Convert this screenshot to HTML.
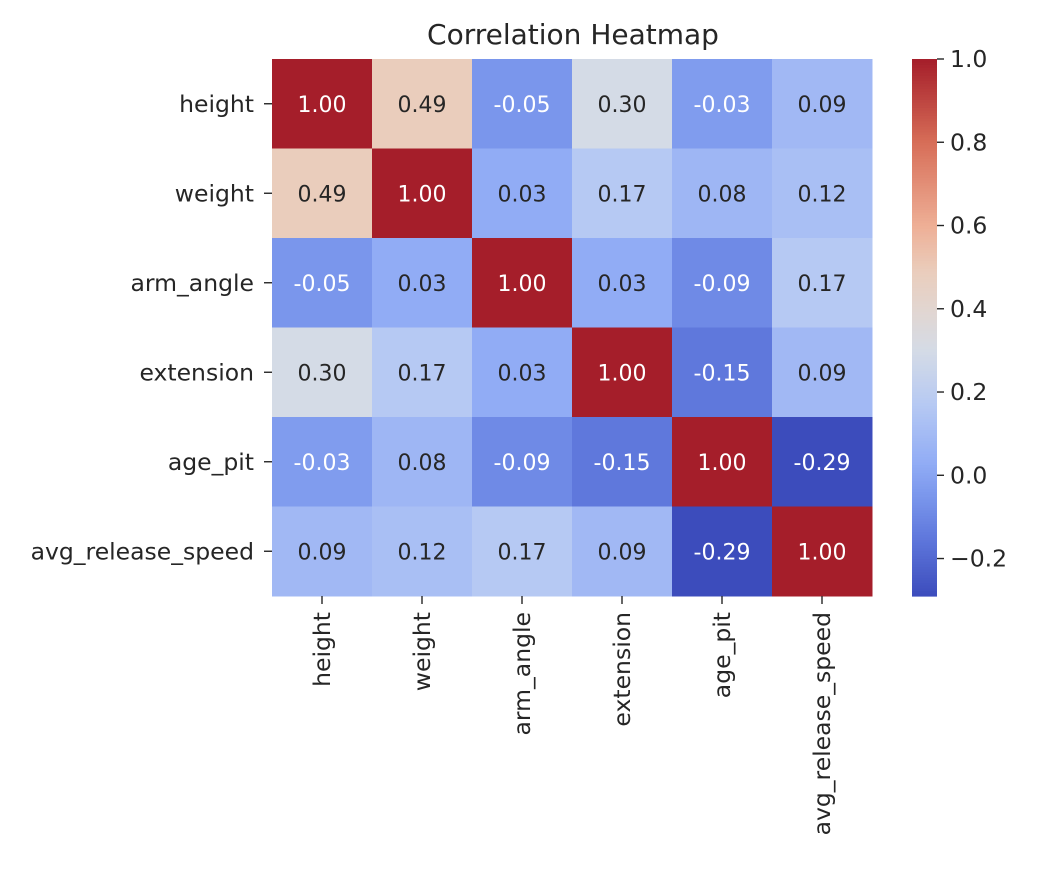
<!DOCTYPE html>
<html><head><meta charset="utf-8"><style>
body{margin:0;background:#fff;}
svg text{font-family:"DejaVu Sans","Liberation Sans",sans-serif;fill:#262626;}
</style></head><body>
<svg id="chart" width="1044" height="868" xmlns="http://www.w3.org/2000/svg">
<text x="573" y="44" font-size="28" text-anchor="middle">Correlation Heatmap</text>
<g id="cells"></g><g id="labels"></g><g id="cbar"></g>
</svg>
<script>
const categories=["height","weight","arm_angle","extension","age_pit","avg_release_speed"];
const row0=[1.00,0.49,-0.05,0.30,-0.03,0.09];
const row1=[0.49,1.00,0.03,0.17,0.08,0.12];
const row2=[-0.05,0.03,1.00,0.03,-0.09,0.17];
const row3=[0.30,0.17,0.03,1.00,-0.15,0.09];
const row4=[-0.03,0.08,-0.09,-0.15,1.00,-0.29];
const row5=[0.09,0.12,0.17,0.09,-0.29,1.00];
const matrix=[row0,row1,row2,row3,row4,row5];
const cbarTicks=[1.0,0.8,0.6,0.4,0.2,0.0,-0.2];
const vmin=-0.29,vmax=1.0;
const NS="http://www.w3.org/2000/svg";
const L=272,T=59,R=872,B=596;
const cw=(R-L)/categories.length,ch=(B-T)/categories.length;
const stops=[[0,60,76,188],[0.109,95,120,220],[0.186,122,150,236],[0.248,145,172,245],[0.357,182,201,243],[0.457,212,219,230],[0.53,225,214,210],[0.605,234,205,188],[0.69,238,175,150],[0.845,215,110,88],[1,165,30,42]];
function cmap(v){let t=Math.max(0,Math.min(1,(v-vmin)/(vmax-vmin)));
 for(let i=1;i<stops.length;i++){if(t<=stops[i][0]){const a=stops[i-1],b=stops[i],f=(t-a[0])/(b[0]-a[0]);
 return [1,2,3].map(k=>Math.round(a[k]+(b[k]-a[k])*f));}}return stops[stops.length-1].slice(1);}
function lum(c){const l=c.map(x=>{x/=255;return x<=0.03928?x/12.92:Math.pow((x+0.055)/1.055,2.4)});return 0.2126*l[0]+0.7152*l[1]+0.0722*l[2];}
function el(tag,attrs,parent){const e=document.createElementNS(NS,tag);for(const k in attrs)e.setAttribute(k,attrs[k]);parent.appendChild(e);return e;}
const cells=document.getElementById('cells'),labels=document.getElementById('labels'),cb=document.getElementById('cbar');
const xs=i=>L+i*cw, ys=j=>T+j*ch;
matrix.forEach((row,j)=>row.forEach((v,i)=>{
 const c=cmap(v);
 const r=el('rect',{x:xs(i),y:ys(j),width:cw+0.5,height:ch+0.5,fill:`rgb(${c})`},cells);
 
 
 const t=el('text',{x:xs(i)+cw/2,y:ys(j)+ch/2+8,'font-size':22,'text-anchor':'middle'},cells);
 
 
 t.style.fill=lum(c)>0.39?'#262626':'#ffffff';
 t.textContent=v.toFixed(2);
}));
categories.forEach((c,i)=>{
 const y=ys(i)+ch/2;
 el('line',{x1:L-8,x2:L,y1:y,y2:y,stroke:'#262626','stroke-width':1.4},labels);
 const t=el('text',{x:L-18,y:y+8,'font-size':23.5,'text-anchor':'end'},labels);
 
 
 t.textContent=c;
 const x=xs(i)+cw/2;
 el('line',{x1:x,x2:x,y1:B,y2:B+8,stroke:'#262626','stroke-width':1.4},labels);
 const t2=el('text',{x:0,y:0,'font-size':23.5,'text-anchor':'end',transform:`translate(${x+8},${B+16}) rotate(-90)`},labels);
 
 
 t2.textContent=c;
});
const cx=912,cwid=25;
const cy=v=>B-(v-vmin)/(vmax-vmin)*(B-T);
for(let k=0;k<200;k++){const v0=vmin+(vmax-vmin)*k/200,v1=vmin+(vmax-vmin)*(k+1)/200;
 el('rect',{x:cx,y:cy(v1),width:cwid,height:cy(v0)-cy(v1)+0.6,fill:`rgb(${cmap((v0+v1)/2)})`},cb);}
cbarTicks.forEach(v=>{const y=cy(v);
 el('line',{x1:cx+cwid,x2:cx+cwid+7,y1:y,y2:y,stroke:'#262626','stroke-width':1.4},cb);
 const t=el('text',{x:cx+cwid+13,y:y+8,'font-size':23.5},cb);
 
 
 t.textContent=v<0?'\u2212'+Math.abs(v).toFixed(1):v.toFixed(1);
});
</script>
</body></html>
